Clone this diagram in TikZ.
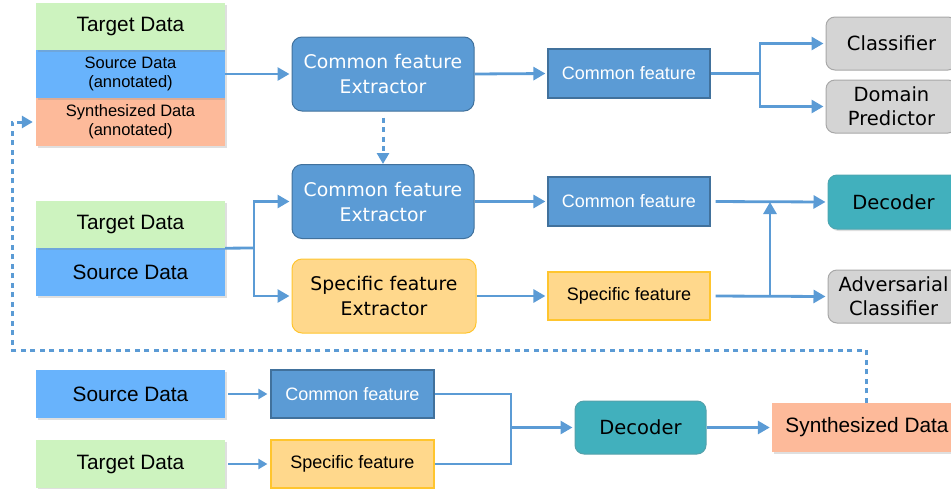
\documentclass[tikz,border=0pt]{standalone}
\usepackage{fontspec}
\setmainfont{Liberation Sans}
\newfontfamily\tahfont{DejaVu Sans}
\usetikzlibrary{arrows.meta,shadows}

\definecolor{lineblue}{HTML}{5B9BD5}
\definecolor{tgtgreen}{HTML}{CDF3BF}
\definecolor{srcblue}{HTML}{68B3FC}
\definecolor{synorange}{HTML}{FDBA9A}
\definecolor{extblue}{HTML}{5B9BD5}
\definecolor{extborder}{HTML}{41719C}
\definecolor{specfill}{HTML}{FFD88C}
\definecolor{specborder}{HTML}{FFC52E}
\definecolor{headgray}{HTML}{D4D4D4}
\definecolor{grayborder}{HTML}{A8A8A8}
\definecolor{decteal}{HTML}{41B0BD}

\tikzset{
  data/.style={rectangle, minimum width=189pt, minimum height=48pt, inner sep=0pt, align=center, font=\fontsize{20.8}{23}\selectfont},
  shad/.style={drop shadow={opacity=0.25, shadow xshift=1.5pt, shadow yshift=-2pt}},
  small/.style={font=\fontsize{16.5}{19}\selectfont},
  extr/.style={rectangle, rounded corners=10pt, minimum width=182pt, minimum height=74pt, inner sep=0pt, align=center, font=\tahfont\fontsize{18.8}{25}\selectfont, line width=1pt},
  feat/.style={rectangle, minimum width=162pt, minimum height=49pt, inner sep=0pt, font=\fontsize{18}{20}\selectfont, line width=1.2pt},
  head/.style={rectangle, rounded corners=9pt, minimum width=131pt, minimum height=53pt, inner sep=0pt, align=center, font=\tahfont\fontsize{19.5}{24}\selectfont, line width=1pt},
  arr/.style={draw=lineblue, line width=2.8pt, -{Triangle[length=12pt,width=13pt]}, shorten >=2pt},
  wire/.style={draw=lineblue, line width=2.8pt},
  fb/.style={draw=lineblue, line width=3pt, dash pattern=on 5pt off 4.5pt},
}

\begin{document}
\begin{tikzpicture}[x=1pt,y=-1pt]
  \useasboundingbox (0,0) rectangle (951,488);
  \clip (0,0) rectangle (951,488);

  % first row: training of the common extractor
  \node[data, shad, fill=synorange, small] (synA) at (130.5,122) {Synthesized Data\\(annotated)};
  \node[data, shad, fill=srcblue, small] (srcA) at (130.5,74) {Source Data\\(annotated)};
  \node[data, shad, fill=tgtgreen, minimum height=47pt] (tgtA) at (130.5,26.5) {Target Data};
  \node[extr, fill=extblue, draw=extborder, text=white] (cfeA) at (383,74) {Common feature\\Extractor};
  \node[feat, fill=extblue, draw=extborder, text=white] (cfA) at (629,73.5) {Common feature};
  \node[head, fill=headgray, draw=grayborder] (cls) at (891.5,43.5) {Classifier};
  \node[head, fill=headgray, draw=grayborder] (dom) at (891.5,106.5) {Domain\\Predictor};

  \draw[arr] (srcA.east) -- (cfeA.west); % into extractor
  \draw[arr] (cfeA.east) -- (cfA.west);
  \coordinate (splA) at (760,73.5); % branch point
  \draw[wire] (cfA.east) -- (splA);
  \draw[arr] (splA) |- (cls.west);
  \draw[arr] (splA) |- (dom.west);

  % second row: common and specific extractors
  \node[data, shad, fill=srcblue] (srcB) at (130.5,272) {Source Data};
  \node[data, shad, fill=tgtgreen, minimum height=47pt] (tgtB) at (130.5,224.5) {Target Data};
  \node[extr, fill=extblue, draw=extborder, text=white] (cfeB) at (383,201.5) {Common feature\\Extractor};
  \node[extr, fill=specfill, draw=specborder, minimum width=184pt] (sfe) at (384,296) {Specific feature\\Extractor};
  \node[feat, fill=extblue, draw=extborder, text=white] (cfB) at (629,201.5) {Common feature};
  \node[feat, fill=specfill, draw=specborder, minimum height=48pt] (sfB) at (629,296) {Specific feature};
  \node[head, shad, fill=decteal, draw=decteal!80!gray, minimum height=54pt] (dec) at (893.5,202) {Decoder};
  \node[head, fill=headgray, draw=grayborder] (adv) at (893.5,296.5) {Adversarial\\Classifier};

  \draw[fb, -{Triangle[length=11pt,width=12pt]}] (cfeA.south) ++(0,6) -- (cfeB.north); % shared weights
  \coordinate (splB) at (254,248); % branch point
  \draw[wire] (tgtB.south east) -- (splB);
  \draw[arr] (splB) |- (cfeB.west);
  \draw[arr] (splB) |- (sfe.west);
  \draw[arr] (cfeB.east) -- (cfB.west);
  \draw[arr] (sfe.east) -- (sfB.west);
  \draw[arr, shorten <=5pt] (cfB.east) -- (dec.west);
  \draw[arr, shorten <=5pt] (sfB.east) -- (adv.west);
  \coordinate (jn) at (770,296);
  \draw[arr, shorten >=0pt] (jn) -- (jn |- dec.west); % specific feature to decoder

  % third row: synthesis
  \node[data, shad, fill=srcblue] (srcC) at (130.5,394) {Source Data};
  \node[data, shad, fill=tgtgreen] (tgtC) at (130.5,464) {Target Data};
  \node[feat, fill=extblue, draw=extborder, text=white, minimum width=163pt, minimum height=48pt] (cfC) at (352.5,394) {Common feature};
  \node[feat, fill=specfill, draw=specborder, minimum width=163pt, minimum height=48pt] (sfC) at (352.5,464) {Specific feature};
  \node[head, fill=decteal, draw=decteal!70!gray] (decC) at (640.5,427.5) {Decoder};
  \node[data, shad, fill=synorange, minimum width=190pt, minimum height=49pt] (synC) at (867,427.5) {Synthesized Data};

  \draw[arr, -{Triangle[length=9pt,width=10pt]}, shorten <=3pt, shorten >=3pt] (srcC.east) -- (cfC.west);
  \draw[arr, -{Triangle[length=9pt,width=10pt]}, shorten <=3pt, shorten >=3pt] (tgtC.east) -- (sfC.west);
  \coordinate (mrg) at (511,427.5); % merge point
  \draw[wire] (cfC.east) -| (mrg) |- (sfC.east);
  \draw[arr] (mrg) -- (decC.west);
  \draw[arr] (decC.east) -- (synC.west);

  % feedback of synthesized data
  \coordinate (fbA) at (866,350);
  \coordinate (fbB) at (12,350);
  \draw[fb, -{Triangle[length=11pt,width=12pt]}, shorten >=3pt] (synC.north -| fbA) -- (fbA) -- (fbB) |- (synA.west);
\end{tikzpicture}
\end{document}
